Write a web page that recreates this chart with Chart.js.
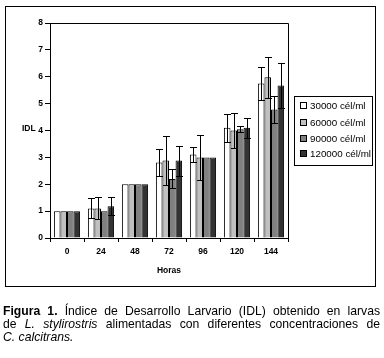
<!DOCTYPE html>
<html><head><meta charset="utf-8">
<script src="https://cdn.jsdelivr.net/npm/chart.js@4.4.1/dist/chart.umd.min.js"></script>
<style>
html,body{margin:0;padding:0;background:#fff;width:384px;height:358px;overflow:hidden;font-family:"Liberation Sans",Arial,sans-serif;color:#000;}
#wrap{position:absolute;left:0;top:0;width:384px;height:290px;}
#frame{position:absolute;left:5px;top:6px;width:369px;height:279px;border:1px solid #000;pointer-events:none;}
#idl{position:absolute;left:22px;top:123px;font-size:8.5px;font-weight:bold;}
#legend{position:absolute;left:294px;top:96px;width:77px;height:68px;border:1px solid #000;background:#fff;}
.li{position:absolute;left:5px;height:12px;font-size:9.8px;line-height:12px;white-space:nowrap;}
.sw{display:inline-block;width:5px;height:5px;border:1px solid #000;margin-right:3px;vertical-align:0px;}
#caption{position:absolute;left:3px;top:305px;width:377px;font-size:12.2px;line-height:13px;}
.j{text-align:justify;text-align-last:justify;}
</style></head>
<body>
<div id="wrap"><canvas id="c" width="384" height="290"></canvas></div>
<div id="frame"></div>
<div id="idl">IDL</div>
<div id="legend"></div>
<div id="caption">
<div class="j"><b>Figura 1.</b> Índice de Desarrollo Larvario (IDL) obtenido en larvas</div>
<div class="j">de <i>L. stylirostris</i> alimentadas con diferentes concentraciones de</div>
<div><i>C. calcitrans.</i></div>
</div>
<script>
const categories = ['0','24','48','72','96','120','144'];
const seriesLabels = ['30000 cél/ml','60000 cél/ml','90000 cél/ml','120000 cél/ml'];
const s30000 = [1, 1.1, 2, 2.81, 3.11, 4.1, 5.75];
const s60000 = [1, 1.1, 2, 2.88, 3.0, 4.0, 5.98];
const s90000 = [1, 1.0, 2, 2.2, 3.0, 4.05, 4.78];
const s120000 = [1, 1.18, 2, 2.88, 3.0, 4.1, 5.67];
const e30000 = [0, 0.37, 0, 0.52, 0.28, 0.52, 0.63];
const e60000 = [0, 0.41, 0, 0.9, 0.85, 0.64, 0.76];
const e90000 = [0, 0, 0, 0.35, 0, 0.1, 0.5];
const e120000 = [0, 0.34, 0, 0.56, 0, 0.37, 0.85];
const yTicks = [0,1,2,3,4,5,6,7,8];
const colors = ['#ffffff','#c0c0c0','#808080','#333333'];

const values = [s30000, s60000, s90000, s120000];
const errors = [e30000, e60000, e90000, e120000];

// HTML legend
const leg = document.getElementById('legend');
const tops = [3, 20, 36, 51];
seriesLabels.forEach((l, i) => {
  const d = document.createElement('div');
  d.className = 'li';
  d.style.top = tops[i] + 'px';
  d.innerHTML = '<span class="sw" style="background:' + colors[i] + '"></span>' + l;
  leg.appendChild(d);
});

const errorBars = {
  id: 'errorBars',
  afterDatasetsDraw(chart) {
    const ctx = chart.ctx;
    const y = chart.scales.y;
    ctx.save();
    ctx.strokeStyle = '#000';
    ctx.lineWidth = 1;
    chart.data.datasets.forEach((ds, i) => {
      const meta = chart.getDatasetMeta(i);
      meta.data.forEach((bar, j) => {
        const e = errors[i][j];
        if (!e) return;
        const v = ds.data[j];
        const x = Math.round(bar.x) + 0.5;
        const yh = Math.round(y.getPixelForValue(v + e)) + 0.5;
        const yl = Math.round(y.getPixelForValue(v - e)) + 0.5;
        const hw = 3.5;
        ctx.beginPath();
        ctx.moveTo(x, yh); ctx.lineTo(x, yl);
        ctx.moveTo(x - hw, yh); ctx.lineTo(x + hw, yh);
        ctx.moveTo(x - hw, yl); ctx.lineTo(x + hw, yl);
        ctx.stroke();
      });
    });
    ctx.restore();
  },
  afterDraw(chart) {
    const a = chart.chartArea;
    const ctx = chart.ctx;
    ctx.save();
    ctx.strokeStyle = '#000';
    ctx.lineWidth = 1;
    ctx.beginPath();
    ctx.moveTo(Math.round(a.left) + 0.5, Math.round(a.top) + 0.5);
    ctx.lineTo(Math.round(a.right) + 0.5, Math.round(a.top) + 0.5);
    ctx.lineTo(Math.round(a.right) + 0.5, Math.round(a.bottom) + 0.5);
    ctx.stroke();
    ctx.restore();
  }
};

Chart.defaults.font.family = '"Liberation Sans", Arial, sans-serif';
Chart.defaults.color = '#000';

new Chart(document.getElementById('c'), {
  type: 'bar',
  data: {
    labels: categories,
    datasets: values.map((v, i) => ({
      label: seriesLabels[i],
      data: v,
      backgroundColor: colors[i],
      borderColor: '#000',
      borderWidth: 1,
      categoryPercentage: 0.77,
      barPercentage: 1.0
    }))
  },
  options: {
    responsive: false,
    animation: false,
    devicePixelRatio: 1,
    layout: { padding: { left: 0, top: 23, right: 96, bottom: 0 } },
    plugins: { legend: { display: false }, tooltip: { enabled: false } },
    scales: {
      x: {
        grid: { display: true, drawOnChartArea: false, drawTicks: true, tickLength: 4, color: '#000', offset: true },
        border: { display: true, color: '#000', width: 1 },
        ticks: { font: { size: 8.5, weight: 'bold' }, padding: 5, color: '#000', maxRotation: 0 },
        title: { display: true, text: 'Horas', font: { size: 8.5, weight: 'bold' }, padding: { top: 0, bottom: 14 }, color: '#000' },
        afterFit(s) { s.height = 52; }
      },
      y: {
        min: 0, max: 8,
        afterBuildTicks(s) { s.ticks = yTicks.map(v => ({ value: v })); },
        grid: { display: true, drawOnChartArea: false, drawTicks: true, tickLength: 5, color: '#000' },
        border: { display: true, color: '#000', width: 1 },
        ticks: { font: { size: 8.5, weight: 'bold' }, padding: 2, color: '#000' },
        afterFit(s) { s.width = 50; }
      }
    }
  },
  plugins: [errorBars]
});
</script>
</body></html>
